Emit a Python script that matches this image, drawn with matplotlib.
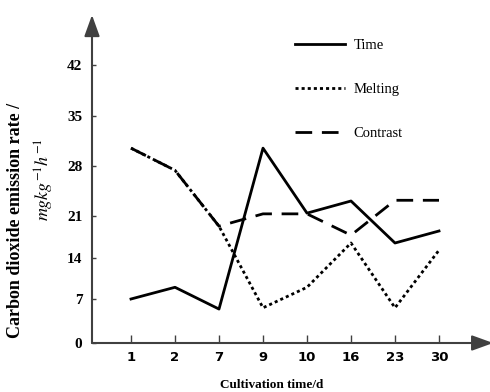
import numpy as np
import matplotlib
matplotlib.use('agg')
import matplotlib.pyplot as plt

days = ['1', '2', '7', '9', '10', '16', '23', '30']
time_rate = [7.0, 9.0, 5.4, 30.5, 21.4, 23.1, 16.5, 18.5]
melting_rate = [30.5, 27.4, 19.3, 5.6, 9.0, 16.5, 5.6, 15.3]
contrast_rate = [30.5, 27.4, 19.3, 21.3, 21.3, 17.8, 23.2, 23.2]
y_ticks = [0, 7, 14, 21, 28, 35, 42]

# the printed axis has uneven spacing between its tick marks,
# so map tick values onto the positions they sit at in the figure
tick_pos = [0, 44, 85, 127, 177, 227, 278]
ext_v = y_ticks + [70]
ext_p = tick_pos + [278 + 28 * 7.24]


def forward(v):
    return np.interp(v, ext_v, ext_p)


def inverse(p):
    return np.interp(p, ext_p, ext_v)


plt.rcParams['mathtext.fontset'] = 'stix'
axis_col = '#404040'

fig = plt.figure(figsize=(4.9, 3.92), dpi=100)
ax = fig.add_axes([92 / 490, 49 / 392, 388 / 490, 323 / 392])

x = np.arange(len(days))
ax.plot(x, contrast_rate, color='black', lw=2, dashes=(6, 3.5), label='Contrast')
ax.plot(x, time_rate, color='black', lw=2, label='Time')
ax.plot(x, melting_rate, color='black', lw=2, dashes=(1.1, 1.1), label='Melting')

ax.set_yscale('function', functions=(forward, inverse))
ax.set_ylim(0, inverse(323))
ax.set_xlim(-39 / 44, 7 + 41 / 44)

for s in ax.spines.values():
    s.set_visible(False)
ax.set_xticks(x)
ax.set_xticklabels(days, family='Liberation Sans Narrow', fontweight='bold', fontsize=9.5)
ax.set_yticks(y_ticks)
ax.set_yticklabels([str(t) for t in y_ticks], family='Liberation Serif', fontweight='bold', fontsize=11)
ax.tick_params(axis='x', direction='in', length=6, width=1, color=axis_col, pad=6)
ax.tick_params(axis='y', direction='in', length=3, width=1, color=axis_col, pad=7)
ax.yaxis.set_minor_locator(matplotlib.ticker.NullLocator())

arrow = dict(arrowstyle='-|>,head_length=1.3,head_width=0.47', color=axis_col, lw=1.5, shrinkA=0, shrinkB=0)
ax.annotate('', xy=(0, 1.0155), xytext=(0, 0), xycoords='axes fraction', arrowprops=arrow, annotation_clip=False)
ax.annotate('', xy=(1.034, 0), xytext=(0, 0), xycoords='axes fraction', arrowprops=arrow, annotation_clip=False)

handles, labels = ax.get_legend_handles_labels()
order = [1, 2, 0]
ax.legend([handles[i] for i in order], [labels[i] for i in order],
          loc='upper left', bbox_to_anchor=(295 / 490, 1 - 39 / 392), bbox_transform=fig.transFigure,
          frameon=False, borderpad=0, borderaxespad=0, handlelength=3.4, handletextpad=0.6,
          labelspacing=2.1, prop={'family': 'Liberation Serif', 'size': 10.5})

fig.text(16 / 490, 1 - 220 / 392, 'Carbon dioxide emission rate /', rotation=90,
         ha='center', va='center', family='Liberation Serif', fontweight='bold', fontsize=13)
fig.text(44 / 490, 1 - 180 / 392, r'$mgkg^{-1}h^{-1}$', rotation=90,
         ha='center', va='center', fontsize=13)
fig.text(272 / 490, 1 - 385 / 392, 'Cultivation time/d', ha='center', va='center',
         family='Liberation Serif', fontweight='bold', fontsize=9.5)

fig.savefig('out.png', dpi=100)
